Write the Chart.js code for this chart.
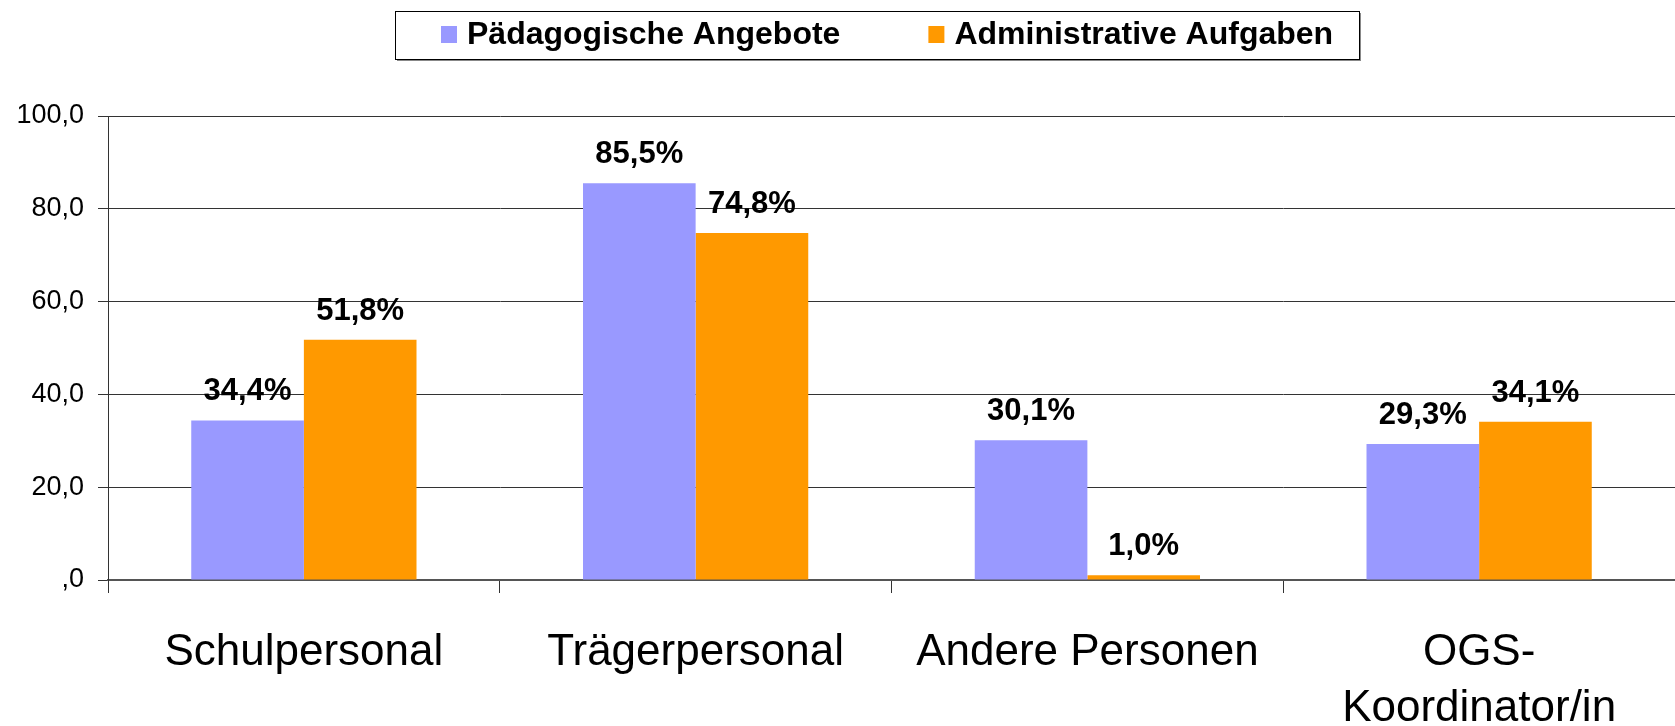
<!DOCTYPE html>
<html>
<head>
<meta charset="utf-8">
<script src="https://cdn.jsdelivr.net/npm/chart.js@4.4.0/dist/chart.umd.min.js"></script>
<style>
  body { margin: 0; background: #fff; }
  canvas { display: block; }
</style>
</head>
<body>
<canvas id="chart" width="1675" height="726"></canvas>
<script>
// Data
const categories = ['Schulpersonal', 'Trägerpersonal', 'Andere Personen', ['OGS-', 'Koordinator/in']];
const seriesNames = ['Pädagogische Angebote', 'Administrative Aufgaben'];
const paedagogisch = [34.4, 85.5, 30.1, 29.3];
const administrativ = [51.8, 74.8, 1.0, 34.1];
const yTickValues = [0, 20, 40, 60, 80, 100];

const FONT = '"Liberation Sans", Arial, sans-serif';

function formatDe(v) {
    return v.toFixed(1).replace('.', ',');
}

// Legend drawn in a framed box at the top
const boxLegend = {
    id: 'boxLegend',
    afterDraw(chart) {
        const ctx = chart.ctx;
        const left = 395, top = 11, w = 964, h = 48;
        ctx.save();
        ctx.fillStyle = '#888';
        ctx.fillRect(left + 2, top + 2, w, h);
        ctx.fillStyle = '#fff';
        ctx.fillRect(left, top, w, h);
        ctx.strokeStyle = '#000';
        ctx.lineWidth = 1;
        ctx.strokeRect(left + 0.5, top + 0.5, w, h);

        ctx.font = 'bold 32px ' + FONT;
        ctx.textBaseline = 'middle';
        ctx.textAlign = 'left';
        let x = left + 46;
        chart.data.datasets.forEach(ds => {
            ctx.fillStyle = ds.backgroundColor;
            ctx.fillRect(x, top + 15, 16, 17);
            ctx.fillStyle = '#000';
            ctx.fillText(ds.label, x + 26, top + 24);
            x += 26 + ctx.measureText(ds.label).width + 88;
        });
        ctx.restore();
    }
};

// Value labels above the bars
const valueLabels = {
    id: 'valueLabels',
    afterDatasetsDraw(chart) {
        const ctx = chart.ctx;
        ctx.save();
        ctx.font = 'bold 31px ' + FONT;
        ctx.fillStyle = '#000';
        ctx.textAlign = 'center';
        ctx.textBaseline = 'alphabetic';
        chart.data.datasets.forEach((ds, i) => {
            chart.getDatasetMeta(i).data.forEach((bar, j) => {
                ctx.fillText(formatDe(ds.data[j]) + '%', bar.x, bar.y - 20);
            });
        });
        ctx.restore();
    }
};

const ctx = document.getElementById('chart').getContext('2d');
const chart = new Chart(ctx, {
    type: 'bar',
    data: {
        labels: categories,
        datasets: [{
            label: seriesNames[0],
            data: paedagogisch,
            backgroundColor: '#9999FF',
            categoryPercentage: 0.575,
            barPercentage: 1.0
        }, {
            label: seriesNames[1],
            data: administrativ,
            backgroundColor: '#FF9900',
            categoryPercentage: 0.575,
            barPercentage: 1.0
        }]
    },
    options: {
        responsive: false,
        devicePixelRatio: 1,
        animation: false,
        layout: {
            padding: { top: 116, left: 0, right: -8, bottom: 0 }
        },
        plugins: {
            legend: { display: false },
            tooltip: { enabled: false }
        },
        scales: {
            x: {
                grid: {
                    offset: true,
                    drawOnChartArea: false,
                    drawTicks: true,
                    tickLength: 13,
                    color: '#333'
                },
                border: { color: '#555', width: 2 },
                ticks: {
                    color: '#000',
                    font: { family: FONT, size: 44, lineHeight: 1.27 },
                    padding: 32,
                    maxRotation: 0,
                    autoSkip: false
                },
                afterFit(scale) { scale.height = 146; }
            },
            y: {
                min: 0,
                max: 100,
                afterBuildTicks(scale) {
                    scale.ticks = yTickValues.map(v => ({ value: v }));
                },
                grid: {
                    color: '#333',
                    lineWidth: 1,
                    drawTicks: true,
                    tickLength: 10
                },
                border: { color: '#333', width: 1 },
                ticks: {
                    color: '#000',
                    font: { family: FONT, size: 27 },
                    padding: 14,
                    callback: v => v === 0 ? ',0' : formatDe(v)
                },
                afterFit(scale) { scale.width = 108; }
            }
        }
    },
    plugins: [boxLegend, valueLabels]
});
</script>
</body>
</html>
